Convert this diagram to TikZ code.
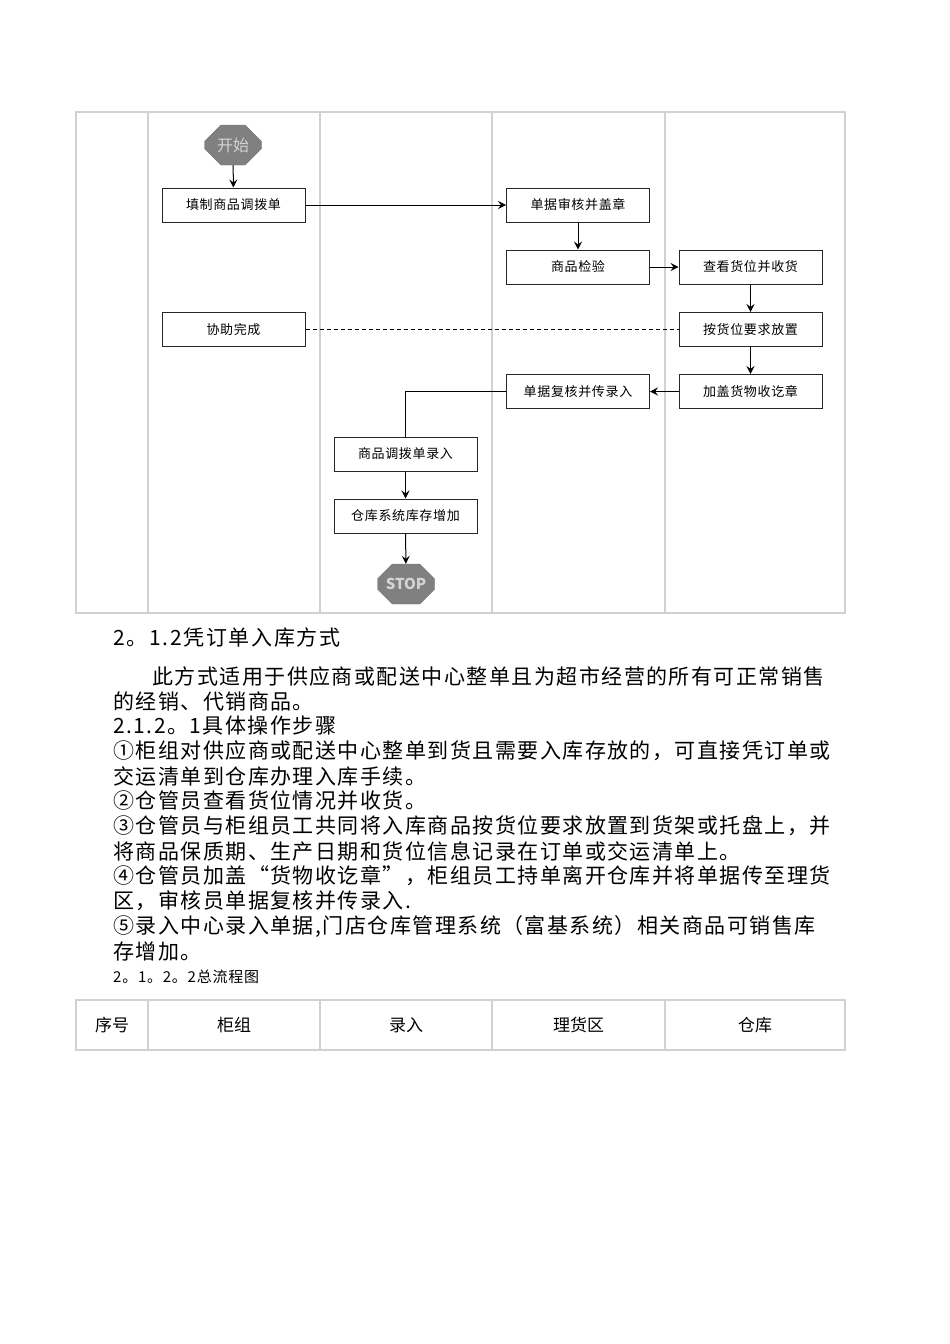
\documentclass[tikz,border=0pt]{standalone}
\usepackage{fontspec}
\setmainfont{Noto Sans CJK SC}
\newfontfamily\bodyfont[LetterSpace=7]{Noto Sans CJK SC}
\newfontfamily\headfont[LetterSpace=8]{Noto Sans CJK SC}
\newfontfamily\boxfont[LetterSpace=5]{Noto Sans CJK SC}
\usetikzlibrary{arrows.meta,positioning,shapes.misc}

\begin{document}
\begin{tikzpicture}[
  x=1pt, y=-1pt,
  proc/.style={rectangle, draw=black!85, line width=1pt, minimum width=143pt, minimum height=34pt, inner sep=0pt, font=\fontsize{13}{15}\selectfont\boxfont},
  term/.style={chamfered rectangle, chamfered rectangle xsep=11pt, chamfered rectangle ysep=9pt, fill=black!50, draw=black!55, minimum width=57pt, minimum height=40pt, inner sep=0pt, text=black!17, font=\fontsize{16}{18}\selectfont},
  grid/.style={draw=black!18, line width=1.2pt},
  line/.style={anchor=west, inner sep=0pt, font=\fontsize{21}{25}\selectfont\bodyfont},
  head/.style={font=\fontsize{17}{19}\selectfont},
  >={Stealth[length=8pt,width=8pt,inset=3pt]}
]
  \useasboundingbox (0,0) rectangle (950,1344);

  % Swimlanes
  \draw[grid] (76,112) rectangle (845,613);
  \foreach \x in {148,320,492,665}
    \draw[grid] (\x,112) -- (\x,613);

  % Steps
  \node[term] (Start) at (233,145) {开始};
  \node[proc] (Fill) at (233.5,205) {填制商品调拨单};
  \node[proc] (Audit) at (578,205) {单据审核并盖章};
  \node[proc] (Inspect) at (578,267) {商品检验};
  \node[proc] (Check) at (750.5,267) {查看货位并收货};
  \node[proc] (Assist) at (233.5,329.5) {协助完成};
  \node[proc] (Place) at (750.5,329.5) {按货位要求放置};
  \node[proc] (Review) at (578,391.5) {单据复核并传录入};
  \node[proc] (Stamp) at (750.5,391.5) {加盖货物收讫章};
  \node[proc] (Entry) at (405.5,454) {商品调拨单录入};
  \node[proc] (Stock) at (405.5,516) {仓库系统库存增加};
  \node[term, font=\fontsize{15}{17}\selectfont\bfseries] (Stop) at (406,584) {STOP};

  % Flow
  \draw[->, line width=1pt] (Start) -- (Fill);
  \draw[->, line width=1pt] (Fill) -- (Audit);
  \draw[->, line width=1pt] (Audit) -- (Inspect);
  \draw[->, line width=1pt] (Inspect) -- (Check);
  \draw[->, line width=1pt] (Check) -- (Place);
  \draw[->, line width=1pt] (Place) -- (Stamp);
  \draw[->, line width=1pt] (Stamp) -- (Review);
  \draw[line width=1pt] (Review.west) -| (Entry.north);
  \draw[->, line width=1pt] (Entry) -- (Stock);
  \draw[->, line width=1pt] (Stock) -- (Stop);

  % Shared step
  \draw[dashed, line width=1pt, dash pattern=on 4pt off 3pt] (Assist) -- (Place);

  % Text
  \node[line, font=\fontsize{21}{23}\selectfont\headfont] (H1) at (113,638) {2。1.2凭订单入库方式};
  \node[line] (L1) at (152,677) {此方式适用于供应商或配送中心整单且为超市经营的所有可正常销售};
  \node[line] (L2) at (113,701) {的经销、代销商品。};
  \node[line] (L3) at (113,726) {2.1.2。1具体操作步骤};
  \node[line] (L4) at (113,751) {①柜组对供应商或配送中心整单到货且需要入库存放的，可直接凭订单或};
  \node[line] (L5) at (113,776) {交运清单到仓库办理入库手续。};
  \node[line] (L6) at (113,801) {②仓管员查看货位情况并收货。};
  \node[line] (L7) at (113,826) {③仓管员与柜组员工共同将入库商品按货位要求放置到货架或托盘上，并};
  \node[line] (L8) at (113,851) {将商品保质期、生产日期和货位信息记录在订单或交运清单上。};
  \node[line] (L9) at (113,876) {④仓管员加盖“货物收讫章”，柜组员工持单离开仓库并将单据传至理货};
  \node[line] (L10) at (113,901) {区，审核员单据复核并传录入.};
  \node[line] (L11) at (113,926) {⑤录入中心录入单据,门店仓库管理系统（富基系统）相关商品可销售库};
  \node[line] (L12) at (113,951) {存增加。};
  \node[line, font=\fontsize{15}{17}\selectfont\boxfont] (H2) at (113,977) {2。1。2。2总流程图};

  % Header row
  \draw[grid] (76,1000) rectangle (845,1050);
  \foreach \x in {148,320,492,665}
    \draw[grid] (\x,1000) -- (\x,1050);
  \node[head] (No) at (112,1025) {序号};
  \node[head] (Team) at (234,1025) {柜组};
  \node[head] (Input) at (406,1025) {录入};
  \node[head] (Sort) at (578.5,1025) {理货区};
  \node[head] (Store) at (755,1025) {仓库};
\end{tikzpicture}
\end{document}
